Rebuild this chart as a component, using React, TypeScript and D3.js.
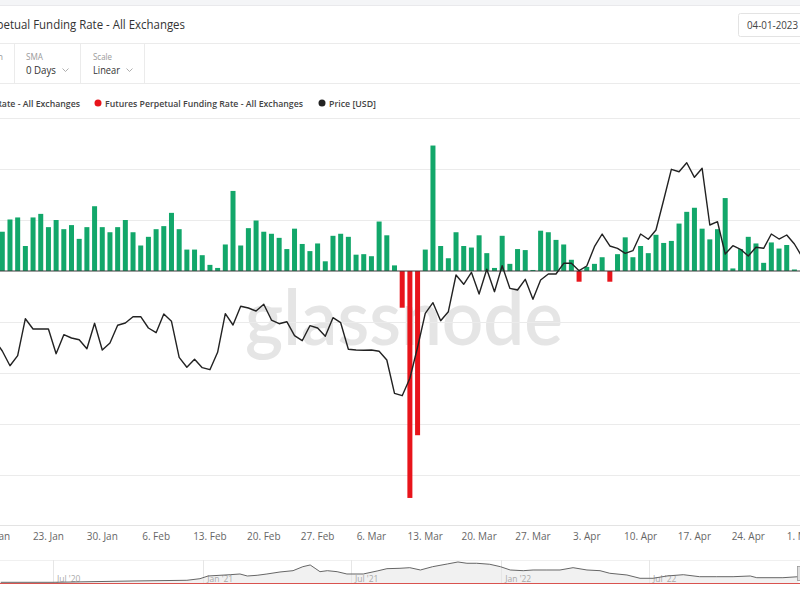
import React from "react";
import * as d3 from "d3";

// ---------- DATA ----------
// Daily futures perpetual funding rate (%), 2023-01-17 .. 2023-04-30
const fundingStart = "2023-01-17";
const fundingRate = [
  0.0077, 0.0101, 0.0105, 0.0049, 0.0105, 0.0112, 0.0086, 0.01, 0.0082, 0.009,
  0.0063, 0.0086, 0.0127, 0.0086, 0.0076, 0.0086, 0.01, 0.0076, 0.005, 0.0067,
  0.0082, 0.0088, 0.0114, 0.0082, 0.0042, 0.0042, 0.0031, 0.0012, 0.0006, 0.0052,
  0.0157, 0.005, 0.0084, 0.0099, 0.0077, 0.0073, 0.0065, 0.0043, 0.0083, 0.0053,
  0.0039, 0.0054, 0.0019, 0.0069, 0.0073, 0.0067, 0.0032, 0.0033, 0.0029, 0.0097,
  0.007, 0.0011, -0.0072, -0.0445, -0.0322, 0.0042, 0.0246, 0.0049, 0.0025, 0.0076,
  0.0049, 0.0046, 0.007, 0.0035, 0.0006, 0.0069, 0.0014, 0.0043, 0.0041, 0.0002,
  0.0079, 0.0076, 0.0061, 0.0052, 0.0022, -0.0021, 0.0008, 0.0014, 0.0027, -0.0021,
  0.0033, 0.0066, 0.0027, 0.0049, 0.0035, 0.0071, 0.0055, 0.0059, 0.0093, 0.0116,
  0.0124, 0.0083, 0.0062, 0.0082, 0.0143, 0.0005, 0.0043, 0.0067, 0.0054, 0.0016,
  0.0056, 0.0044, 0.0051, 0.0003,
];

// Daily price [USD], 2023-01-16 .. 2023-05-01
const priceStart = "2023-01-16";
const price = [
  22486, 21995, 21339, 21786, 23437, 22977, 22977, 22977, 21875, 22723,
  22576, 22500, 22098, 23232, 22040, 22353, 23143, 23245, 23527, 23527,
  23022, 22812, 23647, 23321, 21714, 21268, 21625, 21250, 21161, 21937,
  23660, 23156, 23991, 23915, 23781, 24080, 23379, 23214, 23303, 22678,
  22455, 23125, 23022, 22652, 23482, 23259, 22071, 22040, 22027, 22040,
  21982, 21594, 20107, 20000, 20777, 22161, 23678, 24152, 23348, 23750,
  25388, 24973, 25509, 24540, 25643, 24643, 25803, 24794, 24718, 25196,
  24303, 25165, 25433, 25433, 25910, 25910, 25580, 25790, 26651, 27218,
  26683, 26580, 26357, 26473, 27218, 26982, 27397, 28736, 30107, 29999,
  30400, 29749, 30151, 27620, 27767, 26326, 26696, 26535, 26236, 26625,
  26580, 27218, 26995, 27174, 26772, 26192,
];

// X-axis tick labels (weekly)
const xTicks = [
  "2023-01-16", "2023-01-23", "2023-01-30", "2023-02-06", "2023-02-13", "2023-02-20",
  "2023-02-27", "2023-03-06", "2023-03-13", "2023-03-20", "2023-03-27", "2023-04-03",
  "2023-04-10", "2023-04-17", "2023-04-24", "2023-05-01",
];
const fundingGrid = [-0.04, -0.03, -0.02, -0.01, 0.01, 0.02];

// Navigator (full history) price
const navDates = [
  "2020-04-28", "2020-07-01", "2020-10-07", "2020-12-12", "2020-12-28", "2021-01-07",
  "2021-02-03", "2021-02-15", "2021-02-24", "2021-03-08", "2021-03-20", "2021-04-05",
  "2021-04-21", "2021-05-03", "2021-05-12", "2021-05-18", "2021-05-24", "2021-06-02",
  "2021-06-14", "2021-06-26", "2021-07-16", "2021-08-02", "2021-08-14", "2021-08-30",
  "2021-09-11", "2021-09-24", "2021-10-09", "2021-10-27", "2021-11-09", "2021-11-20",
  "2021-12-02", "2021-12-18", "2021-12-31", "2022-01-12", "2022-01-28", "2022-02-09",
  "2022-02-26", "2022-03-14", "2022-03-30", "2022-04-16", "2022-05-02", "2022-05-14",
  "2022-06-04", "2022-06-20", "2022-07-06", "2022-07-23", "2022-08-12", "2022-09-01",
  "2022-09-22", "2022-10-12", "2022-11-02", "2022-11-10", "2022-12-12", "2022-12-31",
];
const navPrice = [
  3840, 3840, 8000, 10240, 15360, 24000, 28160, 30400, 24000, 26240, 30400, 36800,
  40960, 53760, 59200, 48640, 37760, 40960, 37760, 30400, 30400, 40000, 47360, 48640,
  50560, 43200, 53760, 62400, 68800, 64640, 64640, 61440, 53760, 43200, 40960, 43200,
  43200, 43200, 50560, 43200, 40960, 32640, 27200, 16640, 16640, 24000, 28160, 21760,
  21760, 21760, 24000, 18560, 18560, 21760,
];
const navTicks = ["2020-07-01", "2021-01-01", "2021-07-01", "2022-01-01", "2022-07-01"];

// ---------- STYLE ----------
const GREEN = "#12a76a";
const RED = "#e8141b";
const FONT = "'Open Sans', 'Noto Sans', sans-serif";
const GRID = "#ebebeb";

const parse = (s: string) => new Date(s + "T00:00:00Z");

export default function App() {
  const W = 800;
  const H = 600;
  const plotTop = 118;
  const plotBottom = 526;

  const x = d3
    .scaleUtc()
    .domain([parse("2023-01-16"), parse("2023-05-01")])
    .range([-5.4, 802.1]);
  const yF = d3.scaleLinear().domain([-0.05, 0.03]).range([plotBottom, plotTop]);
  const yP = d3.scaleLinear().domain([14183, 32397]).range([plotBottom, plotTop]);

  const fStart = parse(fundingStart);
  const fundingData = fundingRate.map((v, i) => ({ date: d3.utcDay.offset(fStart, i), v }));
  const pStart = parse(priceStart);
  const priceData = price.map((v, i) => ({ date: d3.utcDay.offset(pStart, i), v }));

  const line = d3
    .line<{ date: Date; v: number }>()
    .x((d) => x(d.date))
    .y((d) => yP(d.v));

  const fmt = d3.utcFormat("%-d. %b");

  // navigator
  const xm = d3.scaleUtc().domain([parse("2020-07-01"), parse("2022-07-01")]).range([53, 649]);
  const ym = d3.scaleLinear().domain([0, 70000]).range([583.5, 561.6]);
  const navData = navDates.map((s, i) => ({ date: parse(s), v: navPrice[i] }));
  const navLine = d3
    .line<{ date: Date; v: number }>()
    .x((d) => xm(d.date))
    .y((d) => ym(d.v));
  const navArea = d3
    .area<{ date: Date; v: number }>()
    .x((d) => xm(d.date))
    .y0(ym(0))
    .y1((d) => ym(d.v));
  const navFmt = d3.utcFormat("%b '%y");

  const barW = 5;
  const zeroY = yF(0);

  const chevron = (cx: number, cy: number) =>
    `M${cx - 3},${cy - 1.5} L${cx},${cy + 1.5} L${cx + 3},${cy - 1.5}`;

  const fit = { lengthAdjust: "spacingAndGlyphs" as const };

  return (
    <svg
      width={W}
      height={H}
      style={{ position: "absolute", left: 0, top: 0, background: "#fff" }}
      fontFamily={FONT}
    >
      <defs>
        <clipPath id="plotClip">
          <rect x={0} y={plotTop} width={W} height={plotBottom - plotTop} />
        </clipPath>
      </defs>

      {/* top page band */}
      <rect x={0} y={0} width={W} height={5} fill="#f4f5f7" />
      <line x1={0} x2={W} y1={5.5} y2={5.5} stroke="#e9e9ec" />

      {/* title */}
      <text x={185} y={29} textAnchor="end" fontSize={12.5} fontWeight={500} fill="#333" textLength={250} {...fit}>
        Futures Perpetual Funding Rate - All Exchanges
      </text>

      {/* date box */}
      <rect x={738.5} y={13.5} width={70} height={23} rx={2} fill="#fff" stroke="#e3e3e3" />
      <text x={747} y={29} fontSize={11} fill="#444" textLength={51} {...fit}>
        04-01-2023
      </text>

      {/* separators */}
      <line x1={0} x2={W} y1={43.5} y2={43.5} stroke={GRID} />
      <line x1={0} x2={W} y1={83.5} y2={83.5} stroke={GRID} />
      <line x1={0} x2={W} y1={118.5} y2={118.5} stroke={GRID} />
      {[14.5, 80.5, 144.5].map((vx) => (
        <line key={vx} x1={vx} x2={vx} y1={43.5} y2={83.5} stroke={GRID} />
      ))}

      {/* controls */}
      <text x={3} y={60} textAnchor="end" fontSize={9} fill="#9a9a9a">
        Resolution
      </text>
      <text x={26} y={60} fontSize={9} fill="#9a9a9a" textLength={17} {...fit}>SMA</text>
      <text x={26} y={74} fontSize={11} fill="#333" textLength={30} {...fit}>0 Days</text>
      <path d={chevron(65.5, 70)} fill="none" stroke="#999" strokeWidth={0.8} />
      <text x={93} y={60} fontSize={9} fill="#9a9a9a" textLength={19} {...fit}>Scale</text>
      <text x={93} y={74} fontSize={11} fill="#333" textLength={27} {...fit}>Linear</text>
      <path d={chevron(129.5, 70)} fill="none" stroke="#999" strokeWidth={0.8} />

      {/* legend */}
      <circle cx={-124} cy={103} r={3.5} fill={GREEN} />
      <text x={80} y={106.5} textAnchor="end" fontSize={9.5} fontWeight={600} fill="#444" textLength={198} {...fit}>
        Futures Perpetual Funding Rate - All Exchanges
      </text>
      <circle cx={98} cy={103} r={3.5} fill={RED} />
      <text x={105} y={106.5} fontSize={9.5} fontWeight={600} fill="#444" textLength={198} {...fit}>
        Futures Perpetual Funding Rate - All Exchanges
      </text>
      <circle cx={322} cy={103} r={3.5} fill="#222" />
      <text x={329} y={106.5} fontSize={9.5} fontWeight={600} fill="#444" textLength={47} {...fit}>
        Price [USD]
      </text>

      {/* watermark */}
      <text
        x={245}
        y={345}
        fontSize={76}
        fontWeight={600}
        fill="#dcdcdc"
        fillOpacity={0.75}
        textLength={318}
        lengthAdjust="spacingAndGlyphs"
        fontFamily="Lato, 'Open Sans', sans-serif"
      >
        glassnode
      </text>

      {/* gridlines */}
      {fundingGrid.map((g) => (
        <line key={g} x1={0} x2={W} y1={Math.round(yF(g)) + 0.5} y2={Math.round(yF(g)) + 0.5} stroke={GRID} />
      ))}
      <line x1={0} x2={W} y1={plotBottom - 0.5} y2={plotBottom - 0.5} stroke="#e3e3e3" />

      <g clipPath="url(#plotClip)">
        {/* bars */}
        {fundingData.map((d, i) => {
          const yv = yF(d.v);
          return (
            <rect
              key={i}
              x={x(d.date) - barW / 2}
              y={Math.min(yv, zeroY)}
              width={barW}
              height={Math.abs(yv - zeroY)}
              fill={d.v >= 0 ? GREEN : RED}
            />
          );
        })}
        {/* zero line */}
        <line x1={0} x2={W} y1={zeroY} y2={zeroY} stroke="#3a3a3a" strokeWidth={1} />
        {/* price line */}
        <path d={line(priceData) || ""} fill="none" stroke="#222" strokeWidth={1.4} strokeLinejoin="round" />
      </g>

      {/* x axis labels */}
      {xTicks.map((s) => (
        <text key={s} x={x(parse(s))} y={540} textAnchor="middle" fontSize={10} fill="#666">
          {fmt(parse(s))}
        </text>
      ))}

      {/* navigator */}
      <line x1={0} x2={W} y1={560.5} y2={560.5} stroke="#f0f0f0" />
      <path d={navArea(navData) || ""} fill="#f1f1f1" />
      {navTicks.map((s) => (
        <g key={s}>
          <line x1={Math.round(xm(parse(s))) + 0.5} x2={Math.round(xm(parse(s))) + 0.5} y1={560} y2={584} stroke="#e6e6e6" />
          <text x={xm(parse(s)) + 4} y={582} fontSize={8.5} fill="#aaa">
            {navFmt(parse(s))}
          </text>
        </g>
      ))}
      <path d={navLine(navData) || ""} fill="none" stroke="#666" strokeWidth={1} />
      <line x1={0} x2={W} y1={583.5} y2={583.5} stroke="#d9534f" strokeWidth={1} />
      <rect x={797.5} y={566.5} width={4} height={14} fill="#ddd" stroke="#999" strokeWidth={0.8} />
    </svg>
  );
}
